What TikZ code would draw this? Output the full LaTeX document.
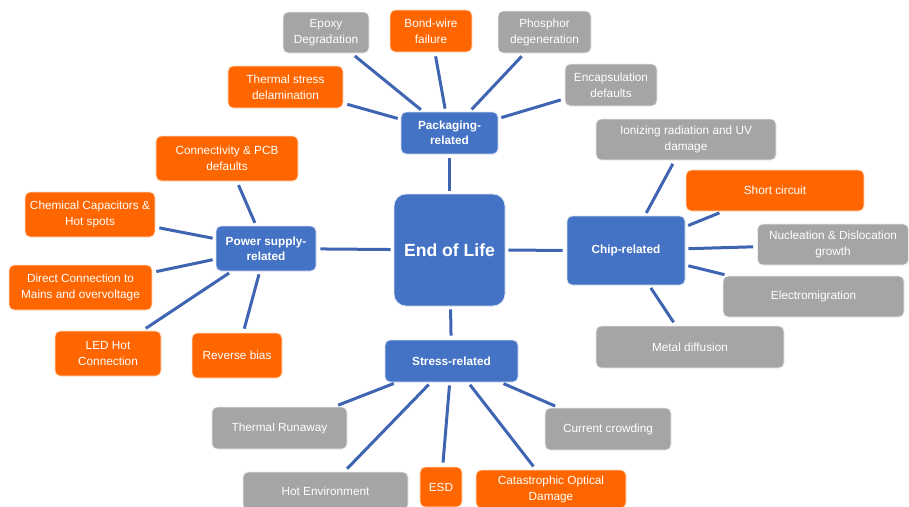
\documentclass[tikz,border=0pt]{standalone}
\usepackage{fontspec}
\setmainfont{Liberation Sans}
\usetikzlibrary{positioning}
\definecolor{hubblue}{HTML}{4472C4}
\definecolor{linkblue}{HTML}{3F64B2}
\definecolor{leafgray}{HTML}{A5A5A5}
\definecolor{leaforange}{HTML}{FF6600}

\begin{document}
\begin{tikzpicture}[x=1pt, y=-1pt,
    linkstyle/.style={draw=linkblue, line width=3pt, shorten <=3pt, shorten >=4pt},
    box/.style 2 args={minimum width=#1pt, minimum height=#2pt},
    hub/.style={rectangle, draw=white!80!hubblue, line width=0.8pt, fill=hubblue,
        rounded corners=5pt, text=white, align=center, inner sep=2pt,
        font=\fontsize{11.8}{15}\selectfont\bfseries},
    grayleaf/.style={rectangle, draw=white!80!leafgray, line width=0.8pt, fill=leafgray,
        rounded corners=5pt, text=white, align=center, inner sep=2pt,
        font=\fontsize{11.8}{16}\selectfont},
    orangeleaf/.style={grayleaf, draw=white!80!leaforange, fill=leaforange}
]
\useasboundingbox (0,0) rectangle (909,506);

\node (EndOfLife) [hub, box={111}{112}, rounded corners=12pt,
    font=\fontsize{17.6}{20}\selectfont\bfseries] at (449.5,250) {End of Life};
\node (Packaging) [hub, box={97}{42}] at (449.5,133) {Packaging-\\related};
\node (Power) [hub, box={100}{45}] at (266,248.5) {Power supply-\\related};
\node (Chip) [hub, box={118}{69}] at (626,250.5) {Chip-related};
\node (Stress) [hub, box={133}{42}] at (451.5,361) {Stress-related};

\node (Packaging01) [grayleaf, box={86}{41}] at (326,32.5) {Epoxy\\Degradation};
\node (Packaging02) [orangeleaf, box={82}{42}] at (431,31) {Bond-wire\\failure};
\node (Packaging03) [grayleaf, box={93}{42}] at (544.5,32) {Phosphor\\degeneration};
\node (Packaging04) [orangeleaf, box={115}{42}] at (285.5,87) {Thermal stress\\delamination};
\node (Packaging05) [grayleaf, box={92}{42}] at (611,85) {Encapsulation\\defaults};

\node (Chip01) [grayleaf, box={180}{41}] at (686,139.5) {Ionizing radiation and UV\\damage};
\node (Chip02) [orangeleaf, box={178}{41}] at (775,190.5) {Short circuit};
\node (Chip03) [grayleaf, box={151}{41}] at (833,244.5) {Nucleation \& Dislocation\\growth};
\node (Chip04) [grayleaf, box={181}{41}] at (813.5,296.5) {Electromigration};
\node (Chip05) [grayleaf, box={188}{42}] at (690,347) {Metal diffusion};

\node (Power01) [orangeleaf, box={142}{45}] at (227,158.5) {Connectivity \& PCB\\defaults};
\node (Power02) [orangeleaf, box={130}{45}] at (90,214.5) {Chemical Capacitors \&\\Hot spots};
\node (Power03) [orangeleaf, box={143}{45}] at (80.5,287.5) {Direct Connection to\\Mains and overvoltage};
\node (Power04) [orangeleaf, box={106}{45}] at (108,353.5) {LED Hot\\Connection};
\node (Power05) [orangeleaf, box={90}{45}] at (237,355.5) {Reverse bias};

\node (Stress01) [grayleaf, box={135}{42}] at (279.5,428) {Thermal Runaway};
\node (Stress02) [grayleaf, box={165}{38}] at (325.5,491) {Hot Environment};
\node (Stress03) [orangeleaf, box={42}{40}] at (441,487) {ESD};
\node (Stress04) [orangeleaf, box={150}{38}] at (551,489) {Catastrophic Optical\\Damage};
\node (Stress05) [grayleaf, box={126}{42}] at (608,429) {Current crowding};

\foreach \hub in {Packaging, Power, Chip, Stress}
    \draw [linkstyle] (EndOfLife) -- (\hub);
\foreach \hub in {Packaging, Power, Chip, Stress}
    \foreach \n in {01,02,03,04,05}
        \draw [linkstyle] (\hub) -- (\hub\n);
\end{tikzpicture}
\end{document}
